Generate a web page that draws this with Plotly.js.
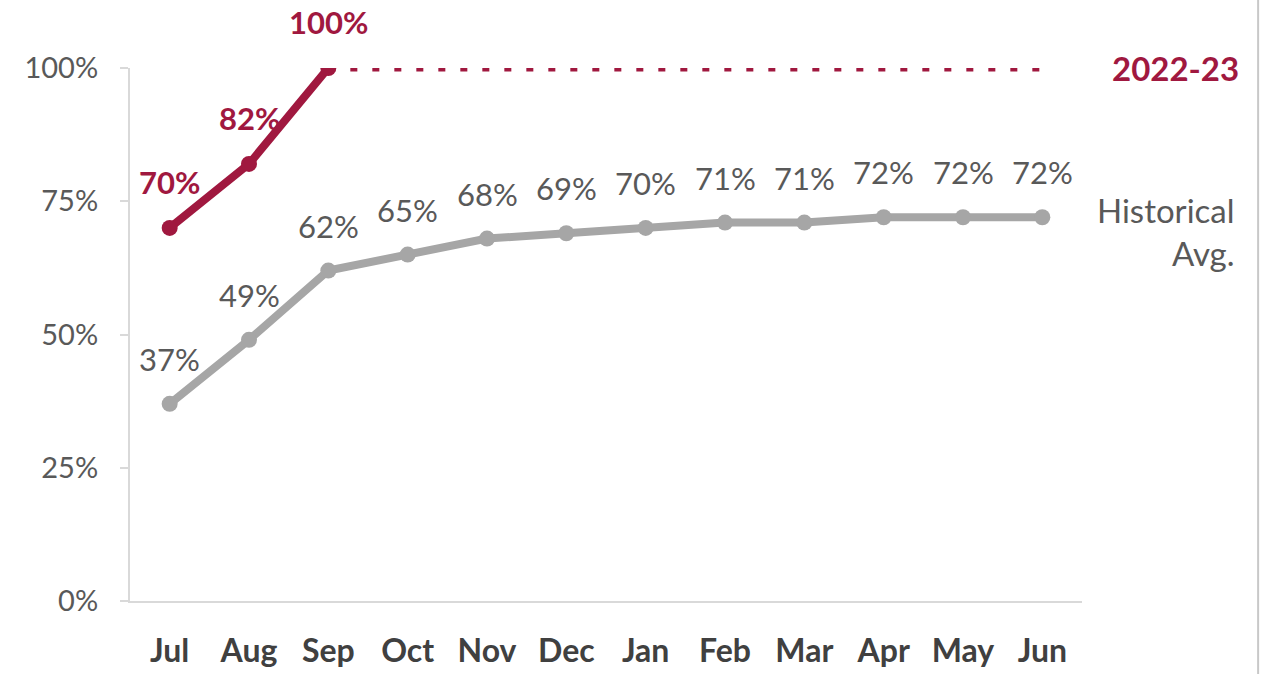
<!DOCTYPE html>
<html>
<head>
<meta charset="utf-8">
<script src="https://cdn.plot.ly/plotly-3.0.1.min.js"></script>
<style>html,body{margin:0;padding:0;background:#fff;}#chart{width:1261px;height:674px;}</style>
</head>
<body>
<div id="chart"></div>
<script>
const months = ["Jul","Aug","Sep","Oct","Nov","Dec","Jan","Feb","Mar","Apr","May","Jun"];
const historicalAvg = [37, 49, 62, 65, 68, 69, 70, 71, 71, 72, 72, 72];
const current = [70, 82, 100];
const currentName = "2022-23";
const historicalName = "Historical<br>Avg.";
const yTicks = [0, 25, 50, 75, 100];
const yTickText = ["0%", "25%", "50%", "75%", "100%"];

const RED = "#A0183F";
const GRAY = "#A6A6A6";
const TEXT_GRAY = "#595959";
const FONT = "Lato, 'Open Sans', sans-serif";

const traces = [
  {
    x: months, y: historicalAvg, type: "scatter", mode: "lines+markers",
    line: {color: GRAY, width: 8}, marker: {color: GRAY, size: 16},
    hoverinfo: "skip", showlegend: false
  },
  {
    x: months.slice(0, current.length), y: current, type: "scatter", mode: "lines+markers",
    line: {color: RED, width: 8}, marker: {color: RED, size: 16},
    hoverinfo: "skip", showlegend: false
  }
];

const annotations = [];
historicalAvg.forEach((v, i) => {
  annotations.push({
    x: months[i], y: v, xref: "x", yref: "y", text: v + "%", showarrow: false,
    yshift: 45, font: {family: FONT, size: 31, color: TEXT_GRAY}
  });
});
current.forEach((v, i) => {
  annotations.push({
    x: months[i], y: v, xref: "x", yref: "y", text: "<b>" + v + "%</b>", showarrow: false,
    yshift: 46, font: {family: FONT, size: 31, color: RED}
  });
});
annotations.push({
  x: 1.029, xref: "paper", y: current[current.length - 1], yref: "y",
  text: "<b>" + currentName + "</b>", showarrow: false, xanchor: "left",
  font: {family: FONT, size: 33, color: RED}
});
annotations.push({
  x: 1.163, xref: "paper", y: historicalAvg[historicalAvg.length - 1], yref: "y",
  text: historicalName, showarrow: false, xanchor: "right", align: "right", yshift: -14,
  font: {family: FONT, size: 33, color: TEXT_GRAY}
});

const layout = {
  width: 1261, height: 674,
  margin: {l: 130, r: 179, t: 68, b: 73},
  paper_bgcolor: "#fff", plot_bgcolor: "#fff",
  showlegend: false,
  xaxis: {
    type: "category", range: [-0.5, months.length - 0.5],
    showgrid: false, zeroline: false,
    showline: true, linecolor: "#D9D9D9", linewidth: 2,
    ticks: "", ticklabelstandoff: 21,
    tickfont: {family: FONT, size: 32, color: "#404040", weight: "bold"}
  },
  yaxis: {
    range: [0, 100], tickvals: yTicks, ticktext: yTickText,
    showgrid: false, zeroline: false,
    showline: true, linecolor: "#D9D9D9", linewidth: 2,
    ticks: "outside", ticklen: 8, tickcolor: "#D9D9D9", tickwidth: 2,
    ticklabelstandoff: 16,
    tickfont: {family: FONT, size: 29, color: TEXT_GRAY}
  },
  shapes: [
    {
      type: "line", xref: "x", yref: "y", layer: "below",
      x0: current.length - 1, x1: months.length - 1,
      y0: current[current.length - 1], y1: current[current.length - 1],
      line: {color: RED, width: 7, dash: "7px,15px"}
    },
    {
      type: "line", xref: "paper", yref: "paper", x0: 1.185, x1: 1.185, y0: -0.2, y1: 1.2,
      line: {color: "#C8C8C8", width: 2}
    }
  ],
  annotations: annotations
};

Plotly.newPlot("chart", traces, layout, {displayModeBar: false, staticPlot: true});
</script>
</body>
</html>
